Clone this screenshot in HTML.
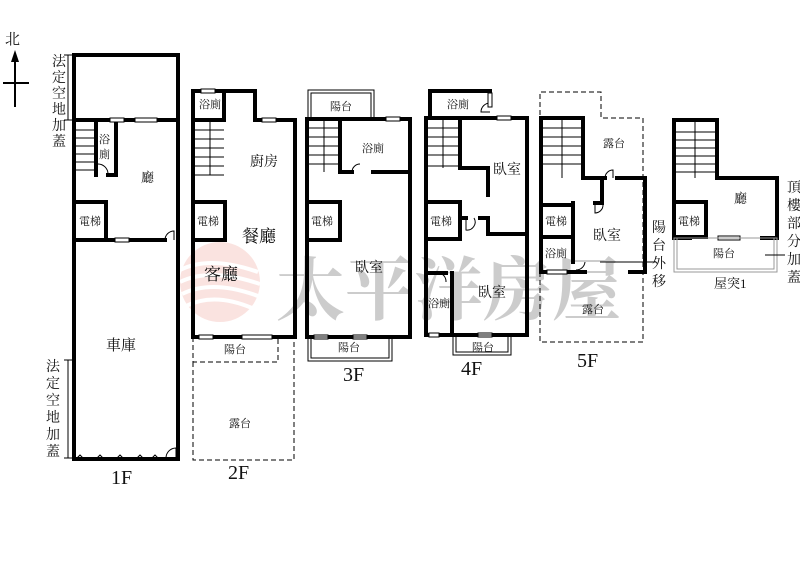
<!DOCTYPE html>
<html><head><meta charset="utf-8"><style>
body{margin:0;background:#fff;width:800px;height:569px;overflow:hidden}
svg{display:block}
text{font-family:"Liberation Serif","Noto Serif CJK SC",serif;fill:#111}
</style></head><body>
<svg width="800" height="569" viewBox="0 0 800 569" xmlns="http://www.w3.org/2000/svg">
<g opacity="0.35">
<circle cx="220" cy="282" r="40" fill="#f3b0a8"/>
<g stroke="#fff" stroke-width="4" fill="none">
<path d="M180 270 Q210 255 258 272"/><path d="M180 282 Q210 267 260 284"/><path d="M182 294 Q212 279 258 296"/><path d="M186 306 Q214 292 252 308"/>
</g>
</g>
<text x="276" y="314" font-size="69" font-weight="bold" style="fill:#c4c4c4" opacity="0.85" textLength="345" font-family="Liberation Serif,Noto Serif CJK SC,serif">太平洋房屋</text>

<text x="5" y="44" font-size="15">北</text>
<line x1="15" y1="107" x2="15" y2="60" stroke="#000" stroke-width="2"/>
<polygon points="15,50 11,62 19,62" fill="#000"/>
<line x1="3" y1="83" x2="29" y2="83" stroke="#000" stroke-width="2"/>

<g fill="none" stroke="#000" stroke-width="4" stroke-linecap="square">
<rect x="74" y="55" width="104" height="404"/>
<line x1="74" y1="120" x2="178" y2="120"/>
<polyline points="96,120 96,175"/>
<polyline points="116,120 116,175"/>
<line x1="108" y1="175" x2="116" y2="175"/>
<rect x="74" y="202" width="32" height="38"/>
<line x1="106" y1="240" x2="165" y2="240"/>
<polyline points="193,337 193,91 255,91 255,120 295,120 295,337 193,337"/>
<line x1="224" y1="91" x2="224" y2="118"/>
<line x1="193" y1="120" x2="224" y2="120"/>
<rect x="193" y="202" width="32" height="38"/>
<rect x="307" y="119" width="103" height="218"/>
<line x1="340" y1="119" x2="340" y2="172"/>
<line x1="340" y1="172" x2="352" y2="172"/>
<line x1="373" y1="172" x2="410" y2="172"/>
<rect x="307" y="202" width="33" height="38"/>
<rect x="426" y="118" width="101" height="217"/>
<polyline points="430,118 430,91 490,91 490,103"/>
<polyline points="460,118 460,168 488,168 488,195"/>
<rect x="426" y="202" width="34" height="37"/>
<line x1="460" y1="218" x2="466" y2="218"/>
<polyline points="480,218 488,218 488,234 527,234"/>
<polyline points="426,273 446,273"/>
<line x1="452" y1="273" x2="452" y2="335"/>
<polyline points="541,272 541,118 583,118 583,178 605,178"/>
<polyline points="617,178 645,178 645,272 630,272"/>
<line x1="541" y1="272" x2="585" y2="272"/>
<polyline points="602,178 602,203 595,203"/>
<line x1="573" y1="203" x2="573" y2="262"/>
<rect x="541" y="205" width="32" height="32"/>
<line x1="541" y1="237" x2="573" y2="237"/>
<polyline points="674,238 674,120 717,120 717,178 777,178 777,238 762,238"/>
<line x1="674" y1="238" x2="690" y2="238"/>
<rect x="674" y="202" width="32" height="35"/>
</g>
<g fill="none" stroke="#000" stroke-width="1">
<path d="M76 130H96M76 138H96M76 146H96M76 154H96M76 162H96M76 170H96"/>
<path d="M195 130H224M195 139H224M195 148H224M195 157H224M195 166H224M195 175H224M210 120V175"/>
<path d="M309 128H340M309 137H340M309 146H340M309 155H340M309 164H340M324 119V172"/>
<path d="M428 128H460M428 137H460M428 146H460M428 155H460M426 166H460M443 118V168"/>
<path d="M541 128H583M541 137H583M541 146H583M541 155H583M541 164H583M562 118V178"/>
<path d="M674 132H717M674 140H717M674 148H717M674 156H717M674 164H717M674 172H717M695 120V178"/>
<path d="M165 240 A9 9 0 0 1 174 231 V240"/>
<path d="M166 458 A10 10 0 0 1 176 448 V458"/>
<path d="M98 164 A10 10 0 0 1 108 174"/>
<path d="M352 172 A8 8 0 0 1 360 164"/>
<path d="M466 218 V230 A8 8 0 0 0 474 218"/>
<path d="M490 103 A9 9 0 0 0 481 112 H490"/>
<path d="M440 273 A9 9 0 0 1 446 282"/>
<path d="M605 178 A8 8 0 0 1 613 170 V178"/>
<path d="M595 203 V213 A8 8 0 0 0 603 205"/>
<path d="M585 262 A9 9 0 0 1 576 270"/>
<rect x="110" y="118" width="14" height="4" fill="#fff"/>
<rect x="135" y="118" width="22" height="4" fill="#fff"/>
<rect x="115" y="238" width="14" height="4" fill="#fff"/>
<rect x="201" y="89" width="14" height="4" fill="#fff"/>
<rect x="262" y="118" width="14" height="4" fill="#fff"/>
<rect x="199" y="335" width="14" height="4" fill="#fff"/>
<rect x="242" y="335" width="30" height="4" fill="#fff"/>
<rect x="386" y="117" width="14" height="4" fill="#fff"/>
<rect x="314" y="335" width="14" height="4" fill="#fff"/>
<rect x="353" y="335" width="14" height="4" fill="#fff"/>
<rect x="497" y="116" width="14" height="4" fill="#fff"/>
<rect x="488" y="93" width="4" height="14" fill="#fff"/>
<rect x="429" y="333" width="10" height="4" fill="#fff"/>
<rect x="478" y="333" width="14" height="4" fill="#fff"/>
<rect x="547" y="270" width="20" height="4" fill="#fff"/>
<rect x="718" y="236" width="22" height="4" fill="#fff"/>
<path d="M77 458 L80 455 83 458 M97 458 L100 455 103 458 M117 458 L120 455 123 458 M137 458 L140 455 143 458 M152 458 L155 455 158 458"/>
<rect x="308" y="90" width="66" height="28"/><rect x="311" y="93" width="60" height="25"/>
<rect x="308" y="337" width="84" height="24"/><rect x="311" y="337" width="78" height="21"/>
<rect x="453" y="335" width="58" height="20"/><rect x="456" y="335" width="52" height="17"/>
<rect x="674" y="238" width="103" height="34" stroke="#999"/><rect x="677" y="238" width="97" height="31" stroke="#999"/>
<g stroke-dasharray="5,3">
<path d="M193 337 V362 H278 V337"/>
<path d="M193 362 V460 H294 V338"/>
<path d="M540 272 V342 H643 V118 H601 V92 H540 V118"/>
</g>
<path d="M68 55 V120 M64 55 H72 M64 120 H72"/>
<path d="M68 360 V458 M64 360 H72 M64 458 H72"/>
<line x1="600" y1="262" x2="656" y2="262"/>
<line x1="765" y1="255" x2="785" y2="255"/>
</g>

<g font-size="12">
<text x="52" y="66" font-size="14">法</text><text x="52" y="82" font-size="14">定</text><text x="52" y="98" font-size="14">空</text><text x="52" y="114" font-size="14">地</text><text x="52" y="130" font-size="14">加</text><text x="52" y="146" font-size="14">蓋</text>
<text x="46" y="371" font-size="14">法</text><text x="46" y="388" font-size="14">定</text><text x="46" y="405" font-size="14">空</text><text x="46" y="422" font-size="14">地</text><text x="46" y="439" font-size="14">加</text><text x="46" y="456" font-size="14">蓋</text>
<text x="99" y="143" font-size="11">浴</text><text x="99" y="158" font-size="11">廁</text>
<text x="141" y="182" font-size="13">廳</text>
<text x="79" y="225" font-size="11">電梯</text>
<text x="106" y="350" font-size="15">車庫</text>
<text x="199" y="108" font-size="11">浴廁</text>
<text x="250" y="166" font-size="14">廚房</text>
<text x="197" y="225" font-size="11">電梯</text>
<text x="242" y="242" font-size="17">餐廳</text>
<text x="204" y="280" font-size="17">客廳</text>
<text x="224" y="353" font-size="11">陽台</text>
<text x="229" y="427" font-size="11">露台</text>
<text x="330" y="110" font-size="11">陽台</text>
<text x="362" y="152" font-size="11">浴廁</text>
<text x="311" y="225" font-size="11">電梯</text>
<text x="355" y="272" font-size="14">臥室</text>
<text x="338" y="351" font-size="11">陽台</text>
<text x="447" y="108" font-size="11">浴廁</text>
<text x="493" y="174" font-size="14">臥室</text>
<text x="430" y="225" font-size="11">電梯</text>
<text x="478" y="297" font-size="14">臥室</text>
<text x="428" y="307" font-size="11">浴廁</text>
<text x="472" y="351" font-size="11">陽台</text>
<text x="603" y="147" font-size="11">露台</text>
<text x="593" y="240" font-size="14">臥室</text>
<text x="545" y="225" font-size="11">電梯</text>
<text x="545" y="257" font-size="11">浴廁</text>
<text x="582" y="313" font-size="11">露台</text>
<text x="652" y="232" font-size="14">陽</text><text x="652" y="250" font-size="14">台</text><text x="652" y="268" font-size="14">外</text><text x="652" y="286" font-size="14">移</text>
<text x="734" y="203" font-size="13">廳</text>
<text x="678" y="225" font-size="11">電梯</text>
<text x="713" y="257" font-size="11">陽台</text>
<text x="714" y="288" font-size="13">屋突1</text>
<text x="787" y="192" font-size="14">頂</text><text x="787" y="210" font-size="14">樓</text><text x="787" y="228" font-size="14">部</text><text x="787" y="246" font-size="14">分</text><text x="787" y="264" font-size="14">加</text><text x="787" y="282" font-size="14">蓋</text>
<text x="111" y="484" font-size="20">1F</text>
<text x="228" y="479" font-size="20">2F</text>
<text x="343" y="381" font-size="20">3F</text>
<text x="461" y="375" font-size="20">4F</text>
<text x="577" y="367" font-size="20">5F</text>
</g>
</svg>
</body></html>
